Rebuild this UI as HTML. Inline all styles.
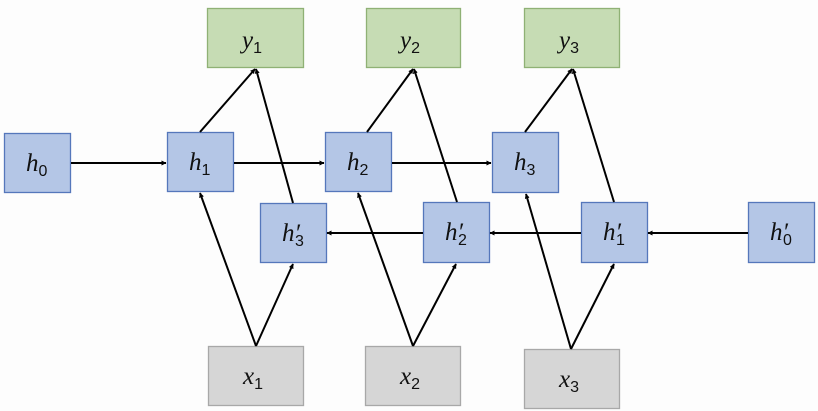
<!DOCTYPE html>
<html><head><meta charset="utf-8"><style>
html,body{margin:0;padding:0;background:#fdfdfd;}
svg{display:block;}
text{font-family:"Liberation Serif",serif;font-style:italic;font-size:25px;fill:#111;}
.s{font-style:normal;font-family:"Liberation Sans",sans-serif;font-size:16px;}
</style></head><body>
<svg width="818" height="411" viewBox="0 0 818 411" xmlns="http://www.w3.org/2000/svg">
<defs>
<marker id="a" viewBox="0 0 10 10" refX="9" refY="5" markerWidth="5" markerHeight="5" orient="auto-start-reverse" markerUnits="userSpaceOnUse"><path d="M0,0 L10,5 L0,10 z" fill="#000"/></marker>
</defs>
<rect width="818" height="411" fill="#fdfdfd"/>
<g fill="#c6dcb4" stroke="#8fb175" stroke-width="1.3">
<rect x="207.5" y="8.5" width="96" height="59"/>
<rect x="366.5" y="8.5" width="94" height="59"/>
<rect x="524.5" y="8.5" width="95" height="59"/>
</g>
<g fill="#d6d6d6" stroke="#a8a8a8" stroke-width="1.3">
<rect x="208.5" y="346.5" width="95" height="59"/>
<rect x="365.5" y="346.5" width="95" height="59"/>
<rect x="524.5" y="349.5" width="95" height="59"/>
</g>
<g fill="#b4c6e6" stroke="#5577bb" stroke-width="1.3">
<rect x="4.5" y="133.5" width="66" height="59"/>
<rect x="167.5" y="132.5" width="66" height="59"/>
<rect x="325.5" y="132.5" width="66" height="59"/>
<rect x="492.5" y="132.5" width="66" height="60"/>
<rect x="260.5" y="203.5" width="66" height="59"/>
<rect x="423.5" y="202.5" width="66" height="60"/>
<rect x="581.5" y="202.5" width="66" height="60"/>
<rect x="748.5" y="202.5" width="66" height="60"/>
</g>
<g stroke="#000" stroke-width="2" fill="none" marker-end="url(#a)">
<line x1="71" y1="163" x2="166" y2="163"/>
<line x1="234" y1="163" x2="324" y2="163"/>
<line x1="392" y1="163" x2="491" y2="163"/>
<line x1="748" y1="233" x2="648" y2="233"/>
<line x1="581" y1="233" x2="490" y2="233"/>
<line x1="423" y1="233" x2="327" y2="233"/>
<line x1="200" y1="132" x2="255" y2="69"/>
<line x1="293" y1="203" x2="256" y2="69"/>
<line x1="367" y1="132" x2="413" y2="69"/>
<line x1="457" y1="202" x2="414" y2="69"/>
<line x1="525" y1="132" x2="572" y2="69"/>
<line x1="614" y1="202" x2="573" y2="69"/>
<line x1="256" y1="346" x2="200" y2="193"/>
<line x1="256" y1="346" x2="293" y2="264"/>
<line x1="413" y1="346" x2="358" y2="193"/>
<line x1="413" y1="346" x2="456" y2="264"/>
<line x1="571" y1="349" x2="526" y2="194"/>
<line x1="571" y1="349" x2="614" y2="264"/>
</g>
<g>
<text x="26" y="171">h<tspan class="s" dy="5">0</tspan></text>
<text x="189" y="170">h<tspan class="s" dy="5">1</tspan></text>
<text x="347" y="170">h<tspan class="s" dy="5">2</tspan></text>
<text x="514" y="170">h<tspan class="s" dy="5">3</tspan></text>
<text x="282" y="241">h′<tspan class="s" dy="5" dx="-5">3</tspan></text>
<text x="445" y="240">h′<tspan class="s" dy="5" dx="-5">2</tspan></text>
<text x="603" y="240">h′<tspan class="s" dy="5" dx="-5">1</tspan></text>
<text x="770" y="240">h′<tspan class="s" dy="5" dx="-5">0</tspan></text>
<text x="242" y="48">y<tspan class="s" dy="5">1</tspan></text>
<text x="400" y="48">y<tspan class="s" dy="5">2</tspan></text>
<text x="559" y="48">y<tspan class="s" dy="5">3</tspan></text>
<text x="243" y="384">x<tspan class="s" dy="5">1</tspan></text>
<text x="400" y="384">x<tspan class="s" dy="5">2</tspan></text>
<text x="559" y="387">x<tspan class="s" dy="5">3</tspan></text>
</g>
</svg>
</body></html>
